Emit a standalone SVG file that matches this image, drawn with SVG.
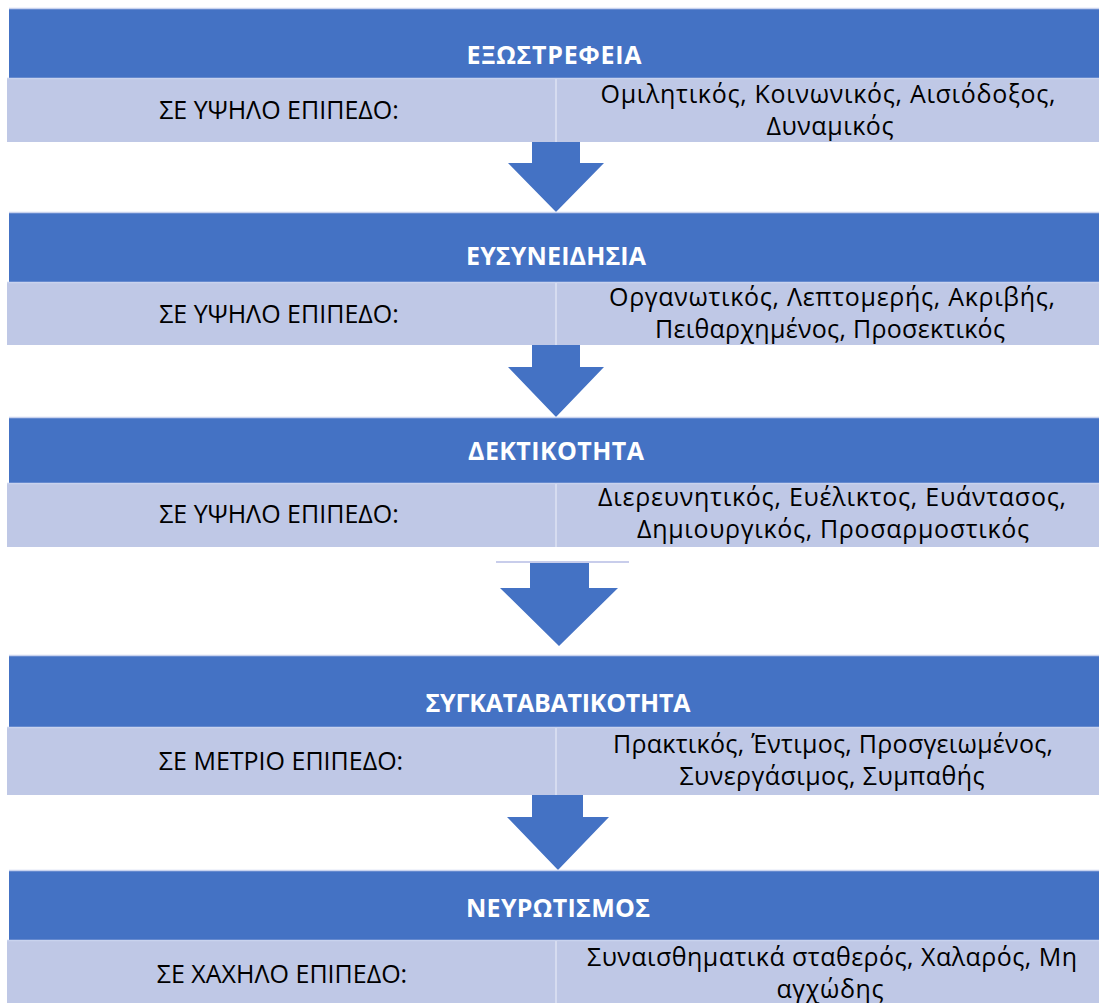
<svg xmlns="http://www.w3.org/2000/svg" width="1099" height="1003" viewBox="0 0 1099 1003">
<style>
.hdr{fill:#4472C4}
.row{fill:#BFC8E6}
.sep{stroke:#D6DCF0;stroke-width:2}
.edge{stroke:#C9D3EE;stroke-width:1.5}
.arr{fill:#4472C4}
.ht{font-family:"Open Sans","Noto Sans",sans-serif;font-weight:bold;font-size:25px;fill:#FFFFFF;text-anchor:middle}
.lt{font-family:"Open Sans","Noto Sans",sans-serif;font-size:25px;fill:#000000;text-anchor:middle}
</style>
<rect width="1099" height="1003" fill="#FFFFFF"/>
<g id="connectors">
<polygon class="arr" points="532,142 580,142 580,163 604,163 556,212 508,163 532,163"/>
<polygon class="arr" points="532,345 580,345 580,367 604,367 556,417 508,367 532,367"/>
<line x1="496" y1="562" x2="629" y2="562" stroke="#C8CDEB" stroke-width="2"/>
<polygon class="arr" points="530,563 589,563 589,588 618,588 559,646 500,588 530,588"/>
<polygon class="arr" points="532,795 583,795 583,817 609,817 558,870 507,817 532,817"/>
</g>
<g id="node1">
<rect class="hdr" x="9" y="8" width="1090" height="70"/>
<line class="edge" x1="9" y1="8.5" x2="1099" y2="8.5"/>
<rect class="row" x="7" y="78" width="1092" height="64"/>
<line class="edge" x1="7" y1="78.5" x2="1099" y2="78.5"/>
<line class="sep" x1="556" y1="79" x2="556" y2="142"/>
<text class="ht" x="554" y="64" textLength="175" lengthAdjust="spacing">ΕΞΩΣΤΡΕΦΕΙΑ</text>
<text class="lt" x="279" y="119">ΣΕ ΥΨΗΛΟ ΕΠΙΠΕΔΟ:</text>
<text class="lt" x="828" y="103" textLength="455" lengthAdjust="spacing">Ομιλητικός, Κοινωνικός, Αισιόδοξος,</text>
<text class="lt" x="830" y="135" textLength="127" lengthAdjust="spacing">Δυναμικός</text>
</g>
<g id="node2">
<rect class="hdr" x="9" y="212" width="1090" height="70"/>
<line class="edge" x1="9" y1="212.5" x2="1099" y2="212.5"/>
<rect class="row" x="7" y="282" width="1092" height="63"/>
<line class="edge" x1="7" y1="282.5" x2="1099" y2="282.5"/>
<line class="sep" x1="556" y1="283" x2="556" y2="345"/>
<text class="ht" x="556" y="265" textLength="180" lengthAdjust="spacing">ΕΥΣΥΝΕΙΔΗΣΙΑ</text>
<text class="lt" x="279" y="323">ΣΕ ΥΨΗΛΟ ΕΠΙΠΕΔΟ:</text>
<text class="lt" x="832" y="306" textLength="446" lengthAdjust="spacing">Οργανωτικός, Λεπτομερής, Ακριβής,</text>
<text class="lt" x="830" y="338" textLength="350" lengthAdjust="spacing">Πειθαρχημένος, Προσεκτικός</text>
</g>
<g id="node3">
<rect class="hdr" x="9" y="417" width="1090" height="66"/>
<line class="edge" x1="9" y1="417.5" x2="1099" y2="417.5"/>
<rect class="row" x="7" y="483" width="1092" height="64"/>
<line class="edge" x1="7" y1="483.5" x2="1099" y2="483.5"/>
<line class="sep" x1="556" y1="484" x2="556" y2="547"/>
<text class="ht" x="556" y="460" textLength="176" lengthAdjust="spacing">ΔΕΚΤΙΚΟΤΗΤΑ</text>
<text class="lt" x="279" y="523">ΣΕ ΥΨΗΛΟ ΕΠΙΠΕΔΟ:</text>
<text class="lt" x="832" y="506" textLength="468" lengthAdjust="spacing">Διερευνητικός, Ευέλικτος, Ευάντασος,</text>
<text class="lt" x="833" y="538" textLength="392" lengthAdjust="spacing">Δημιουργικός, Προσαρμοστικός</text>
</g>
<g id="node4">
<rect class="hdr" x="9" y="655" width="1090" height="72"/>
<line class="edge" x1="9" y1="655.5" x2="1099" y2="655.5"/>
<rect class="row" x="7" y="727" width="1092" height="68"/>
<line class="edge" x1="7" y1="727.5" x2="1099" y2="727.5"/>
<line class="sep" x1="556" y1="728" x2="556" y2="795"/>
<text class="ht" x="558" y="712" textLength="265" lengthAdjust="spacing">ΣΥΓΚΑΤΑΒΑΤΙΚΟΤΗΤΑ</text>
<text class="lt" x="281" y="770">ΣΕ ΜΕΤΡΙΟ ΕΠΙΠΕΔΟ:</text>
<text class="lt" x="833" y="753" textLength="440" lengthAdjust="spacing">Πρακτικός, Έντιμος, Προσγειωμένος,</text>
<text class="lt" x="832" y="785" textLength="305" lengthAdjust="spacing">Συνεργάσιμος, Συμπαθής</text>
</g>
<g id="node5">
<rect class="hdr" x="9" y="870" width="1090" height="70"/>
<line class="edge" x1="9" y1="870.5" x2="1099" y2="870.5"/>
<rect class="row" x="7" y="940" width="1092" height="63"/>
<line class="edge" x1="7" y1="940.5" x2="1099" y2="940.5"/>
<line class="sep" x1="556" y1="941" x2="556" y2="1003"/>
<text class="ht" x="558" y="917" textLength="184" lengthAdjust="spacing">ΝΕΥΡΩΤΙΣΜΟΣ</text>
<text class="lt" x="282" y="983">ΣΕ ΧΑΧΗΛΟ ΕΠΙΠΕΔΟ:</text>
<text class="lt" x="832" y="966" textLength="490" lengthAdjust="spacing">Συναισθηματικά σταθερός, Χαλαρός, Μη</text>
<text class="lt" x="830" y="998" textLength="107" lengthAdjust="spacing">αγχώδης</text>
</g>
</svg>
